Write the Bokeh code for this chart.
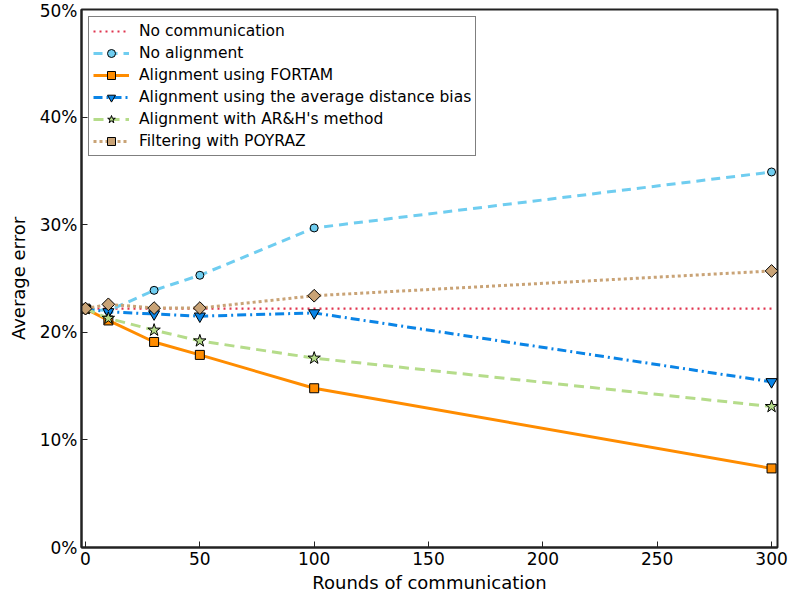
import numpy as np
from bokeh.plotting import figure
from bokeh.models import Range1d, NumeralTickFormatter, FixedTicker
from bokeh.embed import file_html
from bokeh.resources import INLINE

rounds = [0, 10, 30, 50, 100, 300]
no_comm_x = [0, 300]
no_comm = [0.222, 0.222]
no_alignment = [0.222, 0.220, 0.239, 0.253, 0.297, 0.349]
fortam = [0.222, 0.211, 0.191, 0.179, 0.148, 0.0735]
avg_dist_bias = [0.222, 0.219, 0.217, 0.215, 0.218, 0.154]
arh = [0.222, 0.213, 0.202, 0.192, 0.176, 0.131]
poyraz = [0.222, 0.226, 0.2225, 0.2225, 0.234, 0.257]

x_ticks = [0, 50, 100, 150, 200, 250, 300]
y_ticks = [0, 0.1, 0.2, 0.3, 0.4, 0.5]

FONT = "DejaVu Sans"

p = figure(width=792, height=596, output_backend="svg", toolbar_location=None,
           x_range=Range1d(-1.75, 302.6), y_range=Range1d(0, 0.5),
           min_border_left=81, min_border_right=15, min_border_top=9, min_border_bottom=49)
p.xgrid.visible = False
p.ygrid.visible = False
p.outline_line_color = "#222222"
p.outline_line_width = 2
p.background_fill_color = "white"
p.border_fill_color = "white"

for ax in (p.xaxis[0], p.yaxis[0]):
    ax.axis_line_color = "#222222"
    ax.axis_line_width = 2
    ax.major_tick_in = 6
    ax.major_tick_out = 0
    ax.minor_tick_line_color = None
    ax.major_tick_line_color = "#222222"
    ax.major_label_text_font = FONT
    ax.major_label_text_font_size = "17px"
    ax.major_label_text_color = "black"
    ax.axis_label_text_font = FONT
    ax.axis_label_text_font_size = "18px"
    ax.axis_label_text_font_style = "normal"
    ax.axis_label_text_color = "black"

p.xaxis.ticker = FixedTicker(ticks=x_ticks)
p.yaxis.ticker = FixedTicker(ticks=y_ticks)
p.yaxis.formatter = NumeralTickFormatter(format="0%")
p.xaxis.axis_label = "Rounds of communication"
p.yaxis.axis_label = "Average error"
p.xaxis.major_label_standoff = 4
p.xaxis.axis_label_standoff = 4
p.yaxis.major_label_standoff = 4
p.yaxis.axis_label_standoff = 8

# No communication
p.line(no_comm_x, no_comm, line_color="#e0344f", line_width=2.2, line_dash="2 4",
       legend_label="No communication")

series = [
    ("No alignment", no_alignment, "#6fcdf0", "9 6", "circle", "#6fcdf0", 8, 0),
    ("Alignment using FORTAM", fortam, "#ff8c00", "solid", "square", "#ff8c00", 9, 0),
    ("Alignment using the average distance bias", avg_dist_bias, "#0a84e6", "9 4 2 4", "inverted_triangle", "#0a84e6", 11, 0),
    ("Alignment with AR&H's method", arh, "#b5dc8a", "10 6", "star", "#b5dc8a", 13, 0),
    ("Filtering with POYRAZ", poyraz, "#c9a376", "3 3", "square", "#c9a376", 9, np.pi / 4),
]

for label, ys, color, dash, marker, fill, size, angle in series:
    p.line(rounds, ys, line_color=color, line_width=3, line_dash=dash, legend_label=label)
    p.scatter(rounds, ys, marker=marker, size=size, angle=angle, fill_color=fill,
              line_color="black", line_width=1, legend_label=label)

lg = p.legend[0]
lg.location = "top_left"
lg.margin = 7
lg.padding = 4
lg.spacing = 2
lg.label_height = 20
lg.glyph_height = 20
lg.glyph_width = 36
lg.label_standoff = 10
lg.label_text_font = FONT
lg.label_text_font_size = "15.5px"
lg.label_text_color = "black"
lg.border_line_color = "black"
lg.border_line_width = 1.5
lg.background_fill_alpha = 1

open("out.html", "w").write(file_html(p, INLINE))
